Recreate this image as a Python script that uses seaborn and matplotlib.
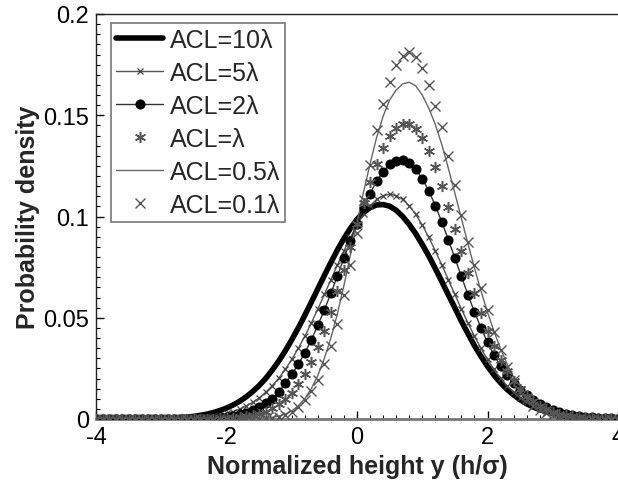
import numpy as np
import pandas as pd
import matplotlib
matplotlib.use("Agg")
import matplotlib.pyplot as plt
import seaborn as sns
from matplotlib.ticker import MultipleLocator

# sample grid of normalized heights (-4 ... 4, step 0.1)
heights = np.round(np.linspace(-4, 4, 81), 1)

acl_10 = [0.0000, 0.0000, 0.0000, 0.0000, 0.0000,
          0.0001, 0.0001, 0.0001, 0.0002, 0.0002,
          0.0003, 0.0004, 0.0005, 0.0007, 0.0010,
          0.0013, 0.0018, 0.0024, 0.0032, 0.0042,
          0.0054, 0.0069, 0.0087, 0.0109, 0.0135,
          0.0165, 0.0200, 0.0241, 0.0286, 0.0336,
          0.0391, 0.0450, 0.0512, 0.0577, 0.0643,
          0.0709, 0.0773, 0.0835, 0.0892, 0.0942,
          0.0986, 0.1020, 0.1044, 0.1057, 0.1059,
          0.1051, 0.1031, 0.1000, 0.0961, 0.0915,
          0.0862, 0.0805, 0.0743, 0.0679, 0.0613,
          0.0549, 0.0483, 0.0422, 0.0362, 0.0310,
          0.0260, 0.0217, 0.0179, 0.0146, 0.0119,
          0.0095, 0.0075, 0.0059, 0.0046, 0.0036,
          0.0028, 0.0021, 0.0016, 0.0012, 0.0009,
          0.0007, 0.0005, 0.0004, 0.0003, 0.0002,
          0.0002]

acl_5 = [0.0000, 0.0000, 0.0000, 0.0000, 0.0000,
         0.0000, 0.0000, 0.0001, 0.0001, 0.0001,
         0.0001, 0.0002, 0.0002, 0.0003, 0.0004,
         0.0005, 0.0008, 0.0011, 0.0015, 0.0020,
         0.0028, 0.0037, 0.0049, 0.0064, 0.0082,
         0.0104, 0.0132, 0.0164, 0.0201, 0.0245,
         0.0294, 0.0349, 0.0409, 0.0474, 0.0543,
         0.0615, 0.0688, 0.0761, 0.0831, 0.0897,
         0.0958, 0.1010, 0.1053, 0.1084, 0.1103,
         0.1110, 0.1103, 0.1084, 0.1053, 0.1010,
         0.0958, 0.0897, 0.0831, 0.0761, 0.0688,
         0.0615, 0.0543, 0.0474, 0.0409, 0.0349,
         0.0294, 0.0245, 0.0201, 0.0164, 0.0132,
         0.0104, 0.0082, 0.0064, 0.0049, 0.0037,
         0.0028, 0.0020, 0.0015, 0.0011, 0.0008,
         0.0005, 0.0004, 0.0003, 0.0002, 0.0001,
         0.0001]

acl_2 = [0.0000, 0.0000, 0.0000, 0.0000, 0.0000,
         0.0000, 0.0000, 0.0000, 0.0000, 0.0000,
         0.0000, 0.0001, 0.0001, 0.0001, 0.0001,
         0.0002, 0.0003, 0.0004, 0.0006, 0.0008,
         0.0012, 0.0017, 0.0023, 0.0032, 0.0043,
         0.0058, 0.0077, 0.0101, 0.0133, 0.0177,
         0.0220, 0.0270, 0.0327, 0.0391, 0.0462,
         0.0539, 0.0621, 0.0707, 0.0794, 0.0880,
         0.0964, 0.1043, 0.1113, 0.1174, 0.1222,
         0.1257, 0.1276, 0.1279, 0.1265, 0.1234,
         0.1187, 0.1126, 0.1054, 0.0973, 0.0885,
         0.0795, 0.0704, 0.0614, 0.0529, 0.0450,
         0.0378, 0.0315, 0.0262, 0.0215, 0.0176,
         0.0145, 0.0117, 0.0094, 0.0075, 0.0059,
         0.0046, 0.0035, 0.0027, 0.0020, 0.0015,
         0.0011, 0.0008, 0.0006, 0.0004, 0.0003,
         0.0002]

acl_1 = [0.0000, 0.0000, 0.0000, 0.0000, 0.0000,
         0.0000, 0.0000, 0.0000, 0.0000, 0.0000,
         0.0000, 0.0000, 0.0000, 0.0000, 0.0000,
         0.0000, 0.0001, 0.0001, 0.0002, 0.0003,
         0.0004, 0.0006, 0.0009, 0.0013, 0.0018,
         0.0026, 0.0037, 0.0052, 0.0072, 0.0098,
         0.0130, 0.0171, 0.0222, 0.0283, 0.0355,
         0.0437, 0.0530, 0.0630, 0.0738, 0.0850,
         0.0962, 0.1069, 0.1169, 0.1260, 0.1337,
         0.1397, 0.1438, 0.1458, 0.1456, 0.1432,
         0.1387, 0.1323, 0.1243, 0.1150, 0.1048,
         0.0940, 0.0831, 0.0723, 0.0620, 0.0524,
         0.0437, 0.0360, 0.0293, 0.0235, 0.0187,
         0.0147, 0.0114, 0.0087, 0.0066, 0.0049,
         0.0036, 0.0026, 0.0019, 0.0013, 0.0009,
         0.0006, 0.0004, 0.0003, 0.0002, 0.0001,
         0.0001]

acl_05 = [0.0000, 0.0000, 0.0000, 0.0000, 0.0000,
          0.0000, 0.0000, 0.0000, 0.0000, 0.0000,
          0.0000, 0.0000, 0.0000, 0.0000, 0.0000,
          0.0000, 0.0000, 0.0000, 0.0000, 0.0000,
          0.0000, 0.0000, 0.0000, 0.0000, 0.0001,
          0.0002, 0.0004, 0.0008, 0.0014, 0.0024,
          0.0040, 0.0065, 0.0100, 0.0150, 0.0215,
          0.0300, 0.0400, 0.0520, 0.0660, 0.0810,
          0.0970, 0.1120, 0.1260, 0.1390, 0.1495,
          0.1575, 0.1625, 0.1655, 0.1663, 0.1645,
          0.1600, 0.1535, 0.1455, 0.1355, 0.1238,
          0.1115, 0.0990, 0.0866, 0.0746, 0.0632,
          0.0527, 0.0432, 0.0347, 0.0272, 0.0207,
          0.0153, 0.0110, 0.0078, 0.0054, 0.0037,
          0.0025, 0.0017, 0.0011, 0.0007, 0.0004,
          0.0003, 0.0002, 0.0001, 0.0000, 0.0000,
          0.0000]

acl_01 = [0.0000, 0.0000, 0.0000, 0.0000, 0.0000,
          0.0000, 0.0000, 0.0000, 0.0000, 0.0000,
          0.0000, 0.0000, 0.0000, 0.0000, 0.0000,
          0.0000, 0.0000, 0.0000, 0.0000, 0.0000,
          0.0000, 0.0000, 0.0000, 0.0000, 0.0000,
          0.0001, 0.0003, 0.0006, 0.0012, 0.0022,
          0.0037, 0.0060, 0.0093, 0.0138, 0.0195,
          0.0270, 0.0360, 0.0470, 0.0610, 0.0760,
          0.0920, 0.1080, 0.1255, 0.1425, 0.1555,
          0.1665, 0.1750, 0.1795, 0.1810, 0.1787,
          0.1735, 0.1650, 0.1548, 0.1442, 0.1300,
          0.1155, 0.1005, 0.0875, 0.0760, 0.0648,
          0.0536, 0.0430, 0.0340, 0.0258, 0.0192,
          0.0140, 0.0097, 0.0066, 0.0044, 0.0029,
          0.0018, 0.0011, 0.0007, 0.0004, 0.0002,
          0.0001, 0.0000, 0.0000, 0.0000, 0.0000,
          0.0000]

labels = ["ACL=10λ", "ACL=5λ", "ACL=2λ", "ACL=λ", "ACL=0.5λ", "ACL=0.1λ"]
x_ticks = [-4, -2, 0, 2, 4]
y_ticks = [0, 0.05, 0.1, 0.15, 0.2]
y_tick_labels = ["0", "0.05", "0.1", "0.15", "0.2"]

df = pd.DataFrame({"h": heights, "a10": acl_10, "a5": acl_5, "a2": acl_2,
                   "a1": acl_1, "a05": acl_05, "a01": acl_01})

sns.set_style("ticks")
plt.rcParams["font.family"] = ["Liberation Sans", "DejaVu Sans"]

fig = plt.figure(figsize=(6.18, 4.85), dpi=100)
ax = fig.add_axes([96 / 618, 1 - 420 / 485, 522 / 618, 405 / 485])

sns.lineplot(data=df, x="h", y="a10", ax=ax, color="black", lw=4.0,
             label=labels[0], zorder=2)
sns.lineplot(data=df, x="h", y="a5", ax=ax, color="#555555", lw=1.0,
             marker="x", markersize=5, mew=0.9, mec="#444444",
             label=labels[1], zorder=3)
sns.lineplot(data=df, x="h", y="a2", ax=ax, color="#333333", lw=1.0,
             marker="o", markersize=6.5, mfc="black", mec="black",
             label=labels[2], zorder=4)
sns.lineplot(data=df, x="h", y="a1", ax=ax, color="#666666", linestyle="none",
             marker=(6, 2, 0), markersize=8, mew=1.1, mec="#555555",
             label=labels[3], zorder=5)
sns.lineplot(data=df, x="h", y="a05", ax=ax, color="#666666", lw=1.0,
             label=labels[4], zorder=3)
sns.lineplot(data=df, x="h", y="a01", ax=ax, color="#555555", linestyle="none",
             marker="x", markersize=7, mew=1.0, mec="#555555",
             label=labels[5], zorder=5)

ax.set_xlim(-4, 4)
ax.set_ylim(0, 0.2)
ax.set_xticks(x_ticks)
ax.set_xticklabels([str(t) for t in x_ticks])
ax.set_yticks(y_ticks)
ax.set_yticklabels(y_tick_labels)
ax.xaxis.set_minor_locator(MultipleLocator(0.2))
ax.yaxis.set_minor_locator(MultipleLocator(0.005))
ax.tick_params(which="both", direction="in", labelsize=17, colors="black")
ax.tick_params(which="major", length=6, width=1.0, pad=5)
ax.tick_params(which="minor", length=3, width=0.8)
ax.spines["right"].set_visible(False)
for s in ["left", "top"]:
    ax.spines[s].set_linewidth(1.0)
    ax.spines[s].set_color("#222222")
ax.spines["bottom"].set_linewidth(2.0)
ax.spines["bottom"].set_color("#777777")

ax.set_xlabel("Normalized height y (h/σ)", fontsize=18, fontweight="bold")
ax.set_ylabel("Probability density", fontsize=18, fontweight="bold")
ax.xaxis.set_label_coords(0.5, (420 - 455) / 405)
ax.yaxis.set_label_coords((40 - 96) / 522, 0.5)

leg = ax.legend(loc="upper left", bbox_to_anchor=(15 / 522, 1 - 9 / 405),
                borderaxespad=0, frameon=True, fancybox=False,
                edgecolor="#777777", framealpha=1, fontsize=18,
                handlelength=1.9, handletextpad=0.25, labelspacing=0.36,
                borderpad=0.2, numpoints=1)
leg.get_frame().set_linewidth(1.2)

fig.savefig("out.png", dpi=100)
